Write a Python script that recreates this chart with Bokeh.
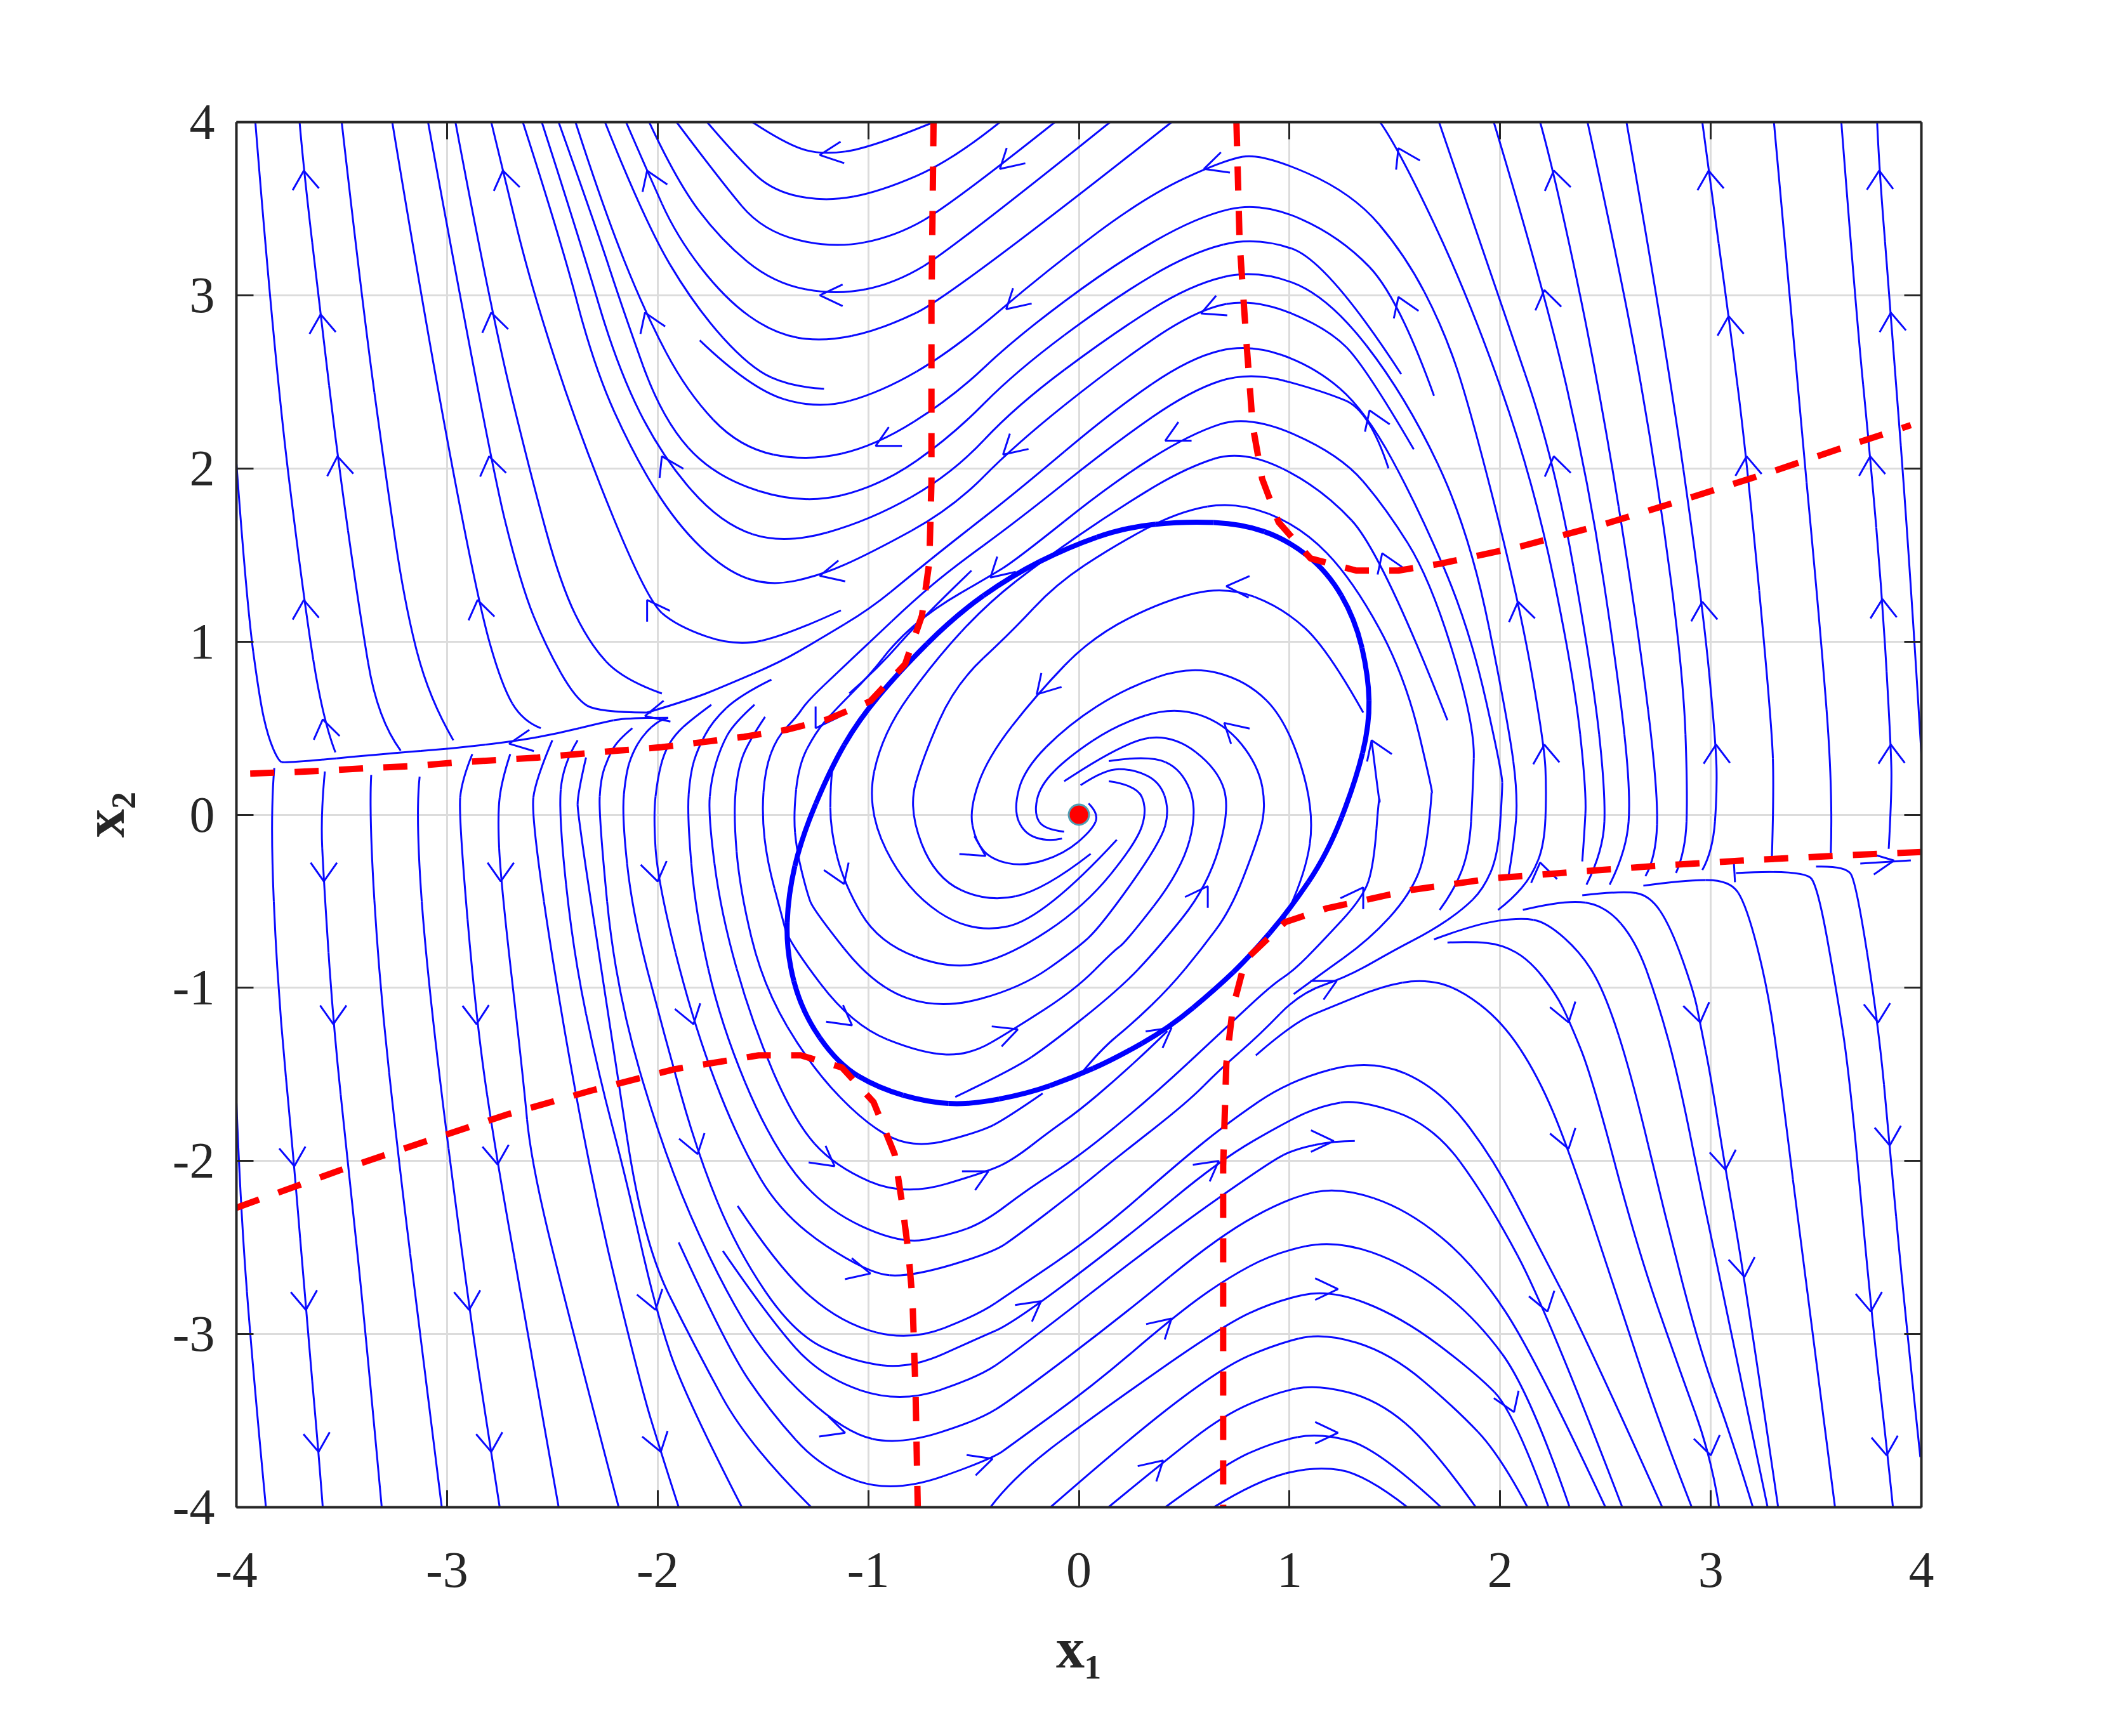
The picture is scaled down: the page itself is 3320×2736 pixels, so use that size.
import math
from bokeh.embed import file_html
from bokeh.resources import INLINE
from bokeh.models import ColumnDataSource, FixedTicker, LinearAxis, Range1d
from bokeh.plotting import figure

# ---- tick labels and axis names ----
tick_values = [-4, -3, -2, -1, 0, 1, 2, 3, 4]
tick_labels = ["-4", "-3", "-2", "-1", "0", "1", "2", "3", "4"]
x_name = "x\u2081"
y_name = "x\u2082"

# ---- streamlines running up the left side and over the top ----
u01 = [(-1.55,4),(-1.40,3.88),(-1.23,3.81),(-.99,3.85),(-.69,4)]
u02 = [(-1.765,4),(-1.61,3.78),(-1.45,3.6),(-1.20,3.54),(-.94,3.6),(-.60,3.78),(-.375,4)]
u03 = [(-1.91,4),(-1.70,3.66),(-1.50,3.37),(-1.17,3.27),(-.87,3.34),(-.60,3.53),(-.114,4)]
u04 = [(-2.04,4),(-1.91,3.66),(-1.70,3.32),(-1.45,3.07),(-1.15,3.0),(-.87,3.07),(-.60,3.27),(.148,4)]
u05 = [(-2.15,4),(-2.05,3.72),(-1.91,3.34),(-1.68,2.98),(-1.45,2.78),(-1.22,2.73),(-.94,2.80),(-.60,3.0),(.44,4)]
u06 = [(-2.25,4),(-2.06,3.42),(-1.82,2.93),(-1.56,2.58),(-1.36,2.47),(-1.21,2.46)]
u07 = [(-1.80,2.74),(-1.56,2.46),(-1.24,2.34),(-.94,2.44),(-.60,2.68),(-.145,3.15),(.317,3.57),(.686,3.78),(.87,3.82),
       (1.30,3.59),(1.55,3.23),(1.73,2.81),(1.855,2.36),(2.09,1.23),(2.21,.405),(2.22,.13),(2.21,-.173),(2.15,-.355),(2.055,-.49),(1.99,-.55)]
u08 = [(-2.39,4),(-2.26,3.51),(-2.06,2.90),(-1.86,2.44),(-1.61,2.12),(-1.29,2.04),(-.965,2.13),(-.60,2.41),(-.30,2.755),
       (.163,3.175),(.563,3.455),(.87,3.54),(1.24,3.34),(1.517,2.99),(1.686,2.42)]
u09 = [(-2.47,4),(-2.30,3.42),(-2.16,2.90),(-1.98,2.29),(-1.73,1.95),(-1.31,1.79),(-.94,1.90),(-.60,2.19),(-.30,2.56),
       (.163,2.98),(.53,3.245),(.84,3.34),(1.18,3.2),(1.53,2.545)]
u10 = [(-2.55,4),(-2.37,3.32),(-2.19,2.58),(-1.98,2.07),(-1.70,1.68),(-1.40,1.56),(-.99,1.70),(-.60,1.97),(-.30,2.36),
       (.163,2.78),(.53,3.06),(.84,3.15),(1.18,3.0),(1.55,2.42),(1.855,1.64),(2.04,.52),(2.085,.1),(2.065,-.173),(2.04,-.355)]
u11 = [(-2.64,4),(-2.46,3.32),(-2.30,2.58),(-2.11,2.07),(-1.91,1.68),(-1.68,1.41),(-1.47,1.32),(-1.23,1.38),(-.99,1.51),
       (-.60,1.77),(-.30,2.14),(.163,2.59),(.563,2.92),(.84,2.98),(1.18,2.81),(1.36,2.59),(1.59,2.11)]
u12 = [(-2.79,4),(-2.735,3.72),(-2.60,3.05),(-2.37,2.19),(-2.05,1.24),(-1.91,1.09),(-1.63,.97),(-1.38,1.04),(-1.13,1.18)]
u13 = [(-2.96,4),(-2.79,2.90),(-2.60,1.95),(-2.46,1.33),(-2.325,.99),(-2.165,.78),(-1.98,.70)]
u14 = [(-3.09,4),(-2.80,2.07),(-2.65,1.33),(-2.53,.97),(-2.39,.67),(-2.28,.59),(-2.03,.59)]
u15 = [(-3.26,4),(-3.09,2.75),(-2.855,1.24),(-2.74,.745),(-2.64,.54),(-2.555,.50)]
u16 = [(-3.5,4),(-3.40,2.93),(-3.29,1.95),(-3.2,1.21),(-3.085,.67),(-2.97,.43)]
u17 = [(-3.70,4),(-3.68,3.72),(-3.60,2.89),(-3.52,2.07),(-3.42,1.21),(-3.33,.55),(-3.22,.37)]
u18 = [(-3.91,4),(-3.82,2.63),(-3.68,1.24),(-3.59,.55),(-3.53,.36)]
u19 = [(-4,2.03),(-3.95,1.21),(-3.89,.67),(-3.85,.45),(-3.80,.31),(-3.77,.298),(-3.28,.353),(-2.97,.383),(-2.67,.426),
       (-2.47,.47),(-2.27,.53),(-2.15,.56),(-1.95,.56)]

# ---- long S-shaped lines through the upper left of the limit cycle ----
s01 = [(-2.05,.59),(-1.83,.67),(-1.67,.75),(-1.42,.88),(-1.235,1.01),(-.99,1.19),(-.80,1.38),(-.606,1.57),(-.30,1.86),
       (.163,2.335),(.53,2.64),(.81,2.72),(1.117,2.59),(1.36,2.335),(1.61,1.776),(1.855,1.08),(2.01,.24),(2.01,.13),(1.99,-.234),
       (1.92,-.43),(1.82,-.55),(1.675,-.67),(1.5,-.78),(1.276,-.936),(1.05,-1.03),(.86,-1.27),(.67,-1.47),(.517,-1.66),(.17,-1.99),
       (0,-2.16),(-.29,-2.43),(-.41,-2.53),
       (-.80,-2.67),(-1.0,-2.65),(-1.40,-2.33),(-1.62,-1.88),(-1.83,-1.21),(-2.0,-.385),(-2.02,0),(-2.0,.21),(-1.97,.355),
       (-1.92,.46),(-1.84,.55),(-1.745,.635)]
s02 = [(1.47,2.0),(1.38,2.335),(1.15,2.45),(.81,2.56),(.53,2.45),(.163,2.14),(-.30,1.69),(-.606,1.42),(-.79,1.23),(-.99,1.0),
       (-1.13,.84),(-1.29,.655),(-1.34,.565),(-1.435,.445),(-1.49,.26),(-1.505,0),(-1.48,-.27),(-1.41,-.585),(-1.38,-.73),
       (-1.077,-1.217),(-.74,-1.38),(-.52,-1.39),(-.31,-1.24),(-.017,-1.01),(.17,-.78),(.22,-.74),(.488,-.32),(.564,.03),(.488,.263),(.334,.345),(.142,.31)]
s03 = [(1.713,-.55),(1.78,-.44),(1.854,-.21),(1.87,.13),(1.88,.52),(1.67,1.357),(1.455,1.776),(1.24,2.08),(.81,2.31),(.53,2.2),
       (.163,1.92),(-.30,1.47),(-.42,1.38),(-.69,1.19),(-.87,1.0),(-.99,.81),(-1.17,.59),(-1.25,.475),(-1.33,.29),(-1.355,0),
       (-1.34,-.21),(-1.29,-.454),(-1.26,-.55),(-.97,-.995),(-.655,-1.126),(-.276,-1.0),(-.017,-.78),(.104,-.646),(.39,-.156),(.43,.03),
       (.382,.193),(.257,.263),(.123,.263),(.008,.17)]
s04 = [(1.75,.545),(1.44,1.51),(1.15,1.89),(.78,2.11),(.5,2.0),(.163,1.75),(-.165,1.475),(-.434,1.22),(-.683,.893),(-.933,.473),
       (-1.01,.03),(-.82,-.436),(-.51,-.69),(-.165,-.60),(.18,-.145)]
s05 = [(1.675,.13),(1.686,.1),(1.55,.8),(1.30,1.357),(1.055,1.665),(.75,1.81),(.47,1.75),(.163,1.55),(-.11,1.33),(-.32,1.056),
       (-.587,.753),(-.74,.333),(-.81,.03),(-.683,-.366),(-.434,-.506),(-.165,-.436),(.056,-.226)]
s06 = [(-.51,1.41),(-.75,1.13),(-.95,.85),(-1.09,.7)]

# ---- spirals into the origin ----
sp1 = [(1.35,.59),(1.18,.96),(.967,1.196),(.70,1.32),(.41,1.24),(.065,1.03),(-.20,.695),(-.434,.33),(-.52,.03),(-.49,-.156),
       (-.415,-.26),(-.26,-.30),(-.07,-.226),(.065,-.086),(.094,.007),(.046,.065)]
sp2 = [(.967,-.622),(1.073,-.366),(1.12,.03),(.987,.543),(.795,.776),(.526,.86),(.219,.73),(-.05,.52),(-.26,.263),(-.31,.03),
       (-.26,-.11),(-.146,-.156),(-.08,-.138)]
sp3 = [(.008,-1.5),(.10,-1.36),(.26,-1.2),(.43,-1.0),(.58,-.78),(.72,-.55),(.833,-.2),(.89,.03),(.852,.287),(.69,.53),(.45,.625),(.18,.52),(-.05,.333),
       (-.184,.17),(-.213,.007),(-.165,-.086),(-.07,-.098)]
sp4 = [(-.587,-1.63),(-.31,-1.47),(-.14,-1.33),(.19,-1.01),(.37,-.78),(.612,-.413),(.718,.03),(.66,.263),(.45,.46),(.22,.427),(-.07,.193)]
sp5 = [(-1.17,.27),(-1.18,.17),(-1.18,-.086),(-1.115,-.40),(-.952,-.74),(-.6,-.90),(-.32,-.81),(.027,-.53),(.276,-.156),(.324,.03),(.276,.17),(.142,.193)]

# ---- lines running down the lower left ----
v01 = [(-1.49,.565),(-1.57,.42),(-1.62,.26),(-1.64,0),(-1.61,-.43),(-1.50,-.986),(-1.27,-1.46),(-1.0,-1.80),(-.776,-1.93),
       (-.466,-1.83),(-.345,-1.755),(-.172,-1.61)]
v02 = [(-1.54,.635),(-1.64,.525),(-1.70,.39),(-1.745,.21),(-1.76,0),(-1.70,-.567),(-1.55,-1.21),(-1.35,-1.77),(-1.16,-2.03),
       (-.83,-2.205),(-.43,-2.06),(-.31,-1.99),(-.14,-1.83),(0,-1.71),(.17,-1.535),(.345,-1.34),(.42,-1.25)]
v03 = [(-1.46,.78),(-1.61,.69),(-1.74,.54),(-1.81,.38),(-1.845,.24),(-1.86,0),(-1.82,-.567),(-1.70,-1.21),(-1.47,-1.88),
       (-1.22,-2.27),(-.85,-2.48),(-.62,-2.43),(-.45,-2.355),(-.24,-2.16),(0,-1.975),(.345,-1.63),(.69,-1.24),(.914,-.985),
       (1.02,-.90),(1.147,-.744),(1.35,-.477),(1.40,-.29),(1.426,.13),(1.43,.03),(1.39,.43)]
v05 = [(-1.62,-2.26),(-1.42,-2.63),(-1.125,-2.94),(-.80,-3.04),(-.48,-2.89),(-.31,-2.75),(.078,-2.43),(.483,-2.0),(.707,-1.78),(1.0,-1.535),
       (1.39,-1.41),(1.71,-1.58),(1.965,-1.98),(2.17,-2.465),(2.40,-3.0),(2.77,-4)]
v06 = [(-1.95,.56),(-1.99,.55),(-2.07,.46),(-2.12,.355),(-2.15,.24),(-2.17,0),(-2.12,-.567),(-1.97,-1.265),(-1.81,-1.96),
       (-1.62,-2.52),(-1.35,-3.0),(-1.07,-3.16),(-.80,-3.2),(-.48,-3.025),(-.31,-2.935),(.24,-2.43),(.664,-2.0),(.99,-1.77),(1.155,-1.68),
       (1.33,-1.645),(1.68,-1.79),(1.94,-2.22),(2.225,-2.87),(2.58,-4)]
v07 = [(-1.69,-2.52),(-1.47,-2.91),(-1.22,-3.25),(-.85,-3.40),(-.48,-3.25),(-.31,-3.11),(.41,-2.43),(.914,-2.0),(1.03,-1.93),(1.21,-1.885),(1.31,-1.885)]
v08 = [(-2.12,.5),(-2.19,.43),(-2.235,.33),(-2.27,.21),(-2.28,0),(-2.2,-1.0),(-1.97,-1.96),(-1.72,-2.66),(-1.47,-3.17),(-1.11,-3.57),
       (-.85,-3.64),(-.48,-3.5),(-.31,-3.37),(.2,-2.9),(.67,-2.43),(1.0,-2.21),(1.24,-2.15),(1.56,-2.28),(1.88,-2.6),(2.17,-3.14),(2.5,-4)]
v09 = [(-1.90,-2.47),(-1.67,-3.08),(-1.47,-3.44),(-1.22,-3.78),(-.875,-3.92),(-.41,-3.72),(-.31,-3.63),(.065,-3.30),(.44,-2.91),
       (.685,-2.69),(.93,-2.53),(1.22,-2.455),(1.56,-2.6),(1.88,-2.9),(2.14,-3.33),(2.33,-4)]
v10 = [(-2.34,.33),(-2.38,.12),(-2.38,0),(-2.22,-1.265),(-2.07,-2.47),(-1.82,-3.08),(-1.57,-3.64),(-1.27,-4)]
v11 = [(-2.38,.43),(-2.45,.29),(-2.47,0),(-2.40,-.8),(-2.28,-1.5),(-2.15,-2.1),(-2.01,-2.86),(-1.87,-3.36),(-1.60,-4)]
v12 = [(-2.5,.43),(-2.58,.2),(-2.60,0),(-2.48,-1.0),(-2.3,-2.2),(-2.08,-3.3),(-1.985,-3.68),(-1.90,-4)]
v13 = [(-2.70,.35),(-2.74,.2),(-2.76,0),(-2.745,-.385),(-2.64,-1.5),(-2.6,-2.02),(-2.4,-3.0),(-2.185,-4)]
v14 = [(-2.88,.35),(-2.93,.2),(-2.945,0),(-2.86,-1.21),(-2.76,-2.02),(-2.6,-3.1),(-2.47,-4)]
v15 = [(-3.13,.22),(-3.15,0),(-3.09,-1.0),(-2.895,-2.86),(-2.79,-3.68),(-2.75,-4)]
v16 = [(-3.36,.23),(-3.37,0),(-3.32,-.986),(-3.23,-1.99),(-3.12,-3.08),(-3.025,-4)]
v17 = [(-3.58,.25),(-3.60,0),(-3.585,-.385),(-3.54,-1.21),(-3.47,-2.02),(-3.39,-2.94),(-3.31,-4)]
v18 = [(-3.82,.27),(-3.84,0),(-3.805,-1.0),(-3.725,-2.03),(-3.67,-2.86),(-3.61,-3.68),(-3.59,-4)]
v19 = [(-4,-1.66),(-3.98,-2.28),(-3.92,-3.23),(-3.86,-4)]

# ---- arches in the lower right ----
a01 = [(.64,-4),(.84,-3.85),(1.12,-3.76),(1.36,-3.81),(1.56,-4)]
a02 = [(.41,-4),(.685,-3.755),(.93,-3.62),(1.145,-3.57),(1.42,-3.66),(1.72,-4)]
a03 = [(.14,-4),(.41,-3.73),(.685,-3.47),(.93,-3.34),(1.13,-3.29),(1.42,-3.38),(1.68,-3.65),(1.885,-4)]
a04 = [(-.135,-4),(.27,-3.57),(.685,-3.19),(.93,-3.06),(1.16,-2.99),(1.48,-3.11),(1.79,-3.43),(2.0,-3.70),(2.13,-4)]
a05 = [(-.42,-4),(-.31,-3.82),(.12,-3.43),(.685,-2.95),(.93,-2.81),(1.19,-2.74),(1.53,-2.9),(1.88,-3.22),(2.066,-3.45),(2.23,-4)]
a06 = [(.84,-1.39),(1.02,-1.2),(1.20,-1.11),(1.44,-.99),(1.63,-.95),(1.80,-1.0),(2.01,-1.195),(2.18,-1.51),(2.325,-1.93),(2.56,-2.8),(2.75,-3.5),(2.91,-4)]
a07 = [(1.75,-.738),(1.865,-.732),(2.01,-.75),(2.14,-.84),(2.266,-1.036),(2.33,-1.195),(2.435,-1.51),(2.65,-2.5),(2.85,-3.2),(3.0,-3.70),(3.04,-4)]
a08 = [(1.686,-.72),(1.886,-.63),(2.097,-.595),(2.22,-.62),(2.39,-.805),(2.50,-1.036),(2.625,-1.51),(2.78,-2.3),(2.95,-3.1),(3.1,-3.6),(3.2,-4)]
a09 = [(2.108,-.55),(2.31,-.49),(2.50,-.525),(2.645,-.73),(2.75,-1.085),(2.846,-1.51),(2.96,-2.2),(3.1,-3.0),(3.27,-4)]
a10 = [(2.39,-.465),(2.58,-.44),(2.71,-.465),(2.81,-.647),(2.92,-1.024),(2.95,-1.207),(3.0,-1.51),(3.07,-2.05),(3.16,-2.67),(3.32,-4)]
a11 = [(2.68,-.41),(2.86,-.38),(3.09,-.375),(3.17,-.525),(3.27,-1.0),(3.33,-1.51),(3.45,-2.7),(3.59,-4)]
a12 = [(3.12,-.337),(3.45,-.315),(3.51,-.43),(3.595,-1.0),(3.66,-1.51),(3.76,-2.85),(3.84,-3.7),(3.865,-4)]
a13 = [(3.5,-.30),(3.64,-.295),(3.69,-.39),(3.795,-1.207),(3.85,-1.91),(3.91,-2.73),(3.995,-3.71)]
a14 = [(3.71,-.282),(3.95,-.264)]
a15 = [(3.11,-.28),(3.115,-.39)]
a16 = [(1.02,-1.036),(1.127,-.94),(1.38,-.72),(1.57,-.465),(1.655,-.21),(1.675,.13)]

# ---- lines running up the upper right ----
t01 = [(1.43,4),(1.517,3.85),(1.855,2.98),(2.16,1.92),(2.35,.8),(2.41,.13),(2.40,-.11),(2.39,-.27)]
t02 = [(1.71,4),(1.98,3.03),(2.255,2.07),(2.44,.8),(2.50,.13),(2.49,-.21),(2.41,-.404)]
t03 = [(1.97,4),(2.21,3.03),(2.42,1.92),(2.56,.8),(2.62,.13),(2.60,-.21),(2.52,-.404)]
t04 = [(2.19,4),(2.255,3.72),(2.47,2.48),(2.655,1.08),(2.75,.13),(2.74,-.246),(2.69,-.355)]
t05 = [(2.415,4),(2.59,3.03),(2.75,1.92),(2.87,.8),(2.89,.13),(2.88,-.21),(2.835,-.337)]
t06 = [(2.60,4),(2.78,2.76),(2.96,1.23),(3.025,.405),(3.03,.13),(3.01,-.21),(2.96,-.32)]
t07 = [(2.96,4),(2.99,3.72),(3.085,2.88),(3.17,2.07),(3.29,.52),(3.30,.13),(3.29,-.26)]
t08 = [(3.30,4),(3.39,2.76),(3.52,1.08),(3.58,.13),(3.57,-.22)]
t09 = [(3.62,4),(3.69,2.9),(3.757,2.07),(3.815,1.245),(3.855,.405),(3.86,.13),(3.845,-.197)]
t10 = [(3.79,4),(3.80,3.72),(3.855,2.9),(3.95,1.36),(4.0,.35)]

streams = [u01,u02,u03,u04,u05,u06,u07,u08,u09,u10,u11,u12,u13,u14,u15,u16,u17,u18,u19,
           s01,s02,s03,s04,s05,s06,sp1,sp2,sp3,sp4,sp5,
           v01,v02,v03,v05,v06,v07,v08,v09,v10,v11,v12,v13,v14,v15,v16,v17,v18,v19,
           a01,a02,a03,a04,a05,a06,a07,a08,a09,a10,a11,a12,a13,a14,a15,a16,
           t01,t02,t03,t04,t05,t06,t07,t08,t09,t10]

# ---- the thick closed curve ----
limit_cycle = [(.507,1.695),(.775,1.68),(.987,1.59),(1.18,1.405),(1.313,1.126),(1.375,.80),(1.38,.52),(1.313,.19),(1.18,-.226),
               (1.0,-.55),(.81,-.82),(.655,-1.0),(.43,-1.23),(.17,-1.41),(-.034,-1.52),(-.24,-1.61),(-.517,-1.675),(-.72,-1.66),(-.95,-1.58),
               (-1.144,-1.44),(-1.317,-1.135),(-1.39,-.786),(-1.38,-.46),(-1.317,-.133),(-1.18,.263),(-1.048,.543),
               (-.856,.823),(-.587,1.15),(-.32,1.38),(-.05,1.545),(.22,1.66)]

# ---- red dashed boundary curves ----
red_upper_left_x = [-.69,-.70,-.70,-.71,-.745,-.825,-.99,-1.195,-1.39,-1.59,-1.78,-1.98,-2.19,-2.38,-2.57,-2.97,-3.17,-3.365,-3.565,-3.76,-4]
red_upper_left_y = [4,2.93,1.92,1.46,1.15,.87,.656,.55,.49,.45,.42,.39,.37,.35,.33,.30,.28,.27,.255,.245,.235]
red_upper_right_x = [.748,.763,.794,.825,.87,.948,1.10,1.317,1.517,1.717,2.10,2.50,2.90,3.30,3.70,3.95]
red_upper_right_y = [4,3.31,2.755,2.25,1.94,1.69,1.48,1.41,1.41,1.45,1.55,1.68,1.83,1.985,2.15,2.25]
red_lower_right_x = [4,3.55,3.15,2.75,2.36,1.97,1.58,1.18,.98,.79,.73,.70,.685,.685,.685,.685]
red_lower_right_y = [-.215,-.24,-.265,-.295,-.33,-.367,-.434,-.54,-.62,-.84,-1.12,-1.44,-2.03,-2.63,-3.27,-4]
red_lower_left_x = [-4,-3.5,-3.11,-2.71,-2.32,-1.92,-1.52,-1.32,-1.125,-.975,-.875,-.84,-.81,-.79,-.775,-.765]
red_lower_left_y = [-2.27,-2.05,-1.89,-1.73,-1.595,-1.47,-1.39,-1.39,-1.46,-1.66,-1.96,-2.24,-2.52,-2.80,-3.36,-4]

# ---- arrowheads: tip x, tip y, heading in degrees ----
arrow_x = [-3.68,-3.60,-3.52,-2.735,-2.79,-2.80,-2.855,-3.68,-3.59,-2.05,-2.06,-1.98,-2.05,
           -1.23,-1.23,-.965,-1.23,-.375,-.345,-.36,-.42,.594,.58,.41,
           1.517,1.517,1.38,1.44,2.255,2.21,2.255,2.085,2.21,2.99,3.085,3.17,2.96,3.025,3.80,3.855,3.757,3.815,3.855,1.39,
           .70,-.20,-.443,.69,-1.115,-1.077,-.29,.612,.44,-1.25,1.35,1.224,
           -3.585,-3.54,-3.725,-3.67,-3.61,-2.745,-2.86,-2.76,-2.895,-2.79,-2.0,-1.83,-1.81,-2.01,-1.985,
           -1.16,-.99,-1.11,-.43,-.41,
           1.21,.664,-.18,.44,1.23,.40,1.23,2.325,2.325,2.225,2.066,2.95,3.07,3.16,3.0,3.795,3.85,3.76,3.835,
           3.87,2.19,-2.705,-2.06]
arrow_y = [3.72,2.89,2.07,3.72,2.90,2.07,1.24,1.24,.55,3.72,2.90,2.07,1.24,
           3.81,3.0,2.13,1.38,3.73,2.92,2.08,1.37,3.73,2.895,2.16,
           3.85,2.99,2.335,1.51,3.72,3.03,2.07,1.23,.405,3.72,2.88,2.07,1.23,.405,3.72,2.9,2.07,1.245,.405,.43,
           1.32,.695,-.238,.53,-.40,-1.217,-1.24,-.413,-1.23,.5,-.42,-.96,
           -.385,-1.21,-2.03,-2.86,-3.68,-.385,-1.21,-2.02,-2.86,-3.68,-.385,-1.21,-1.96,-2.86,-3.68,
           -2.03,-2.65,-3.57,-2.06,-3.72,
           -1.885,-2.0,-2.81,-2.91,-2.74,-3.73,-3.57,-1.20,-1.93,-2.87,-3.45,-1.2,-2.05,-2.67,-3.70,-1.2,-1.91,-2.87,-3.70,
           -.265,-.276,.41,.57]
arrow_heading = [95,95,97,100,100,100,100,95,100,110,110,115,120,
                 188,180,210,195,225,225,225,225,200,205,210,
                 115,110,110,110,100,100,100,100,95,95,95,95,95,92,92,95,95,93,92,110,
                 178,230,325,135,290,320,22,60,40,240,60,30,
                 270,270,275,275,275,270,272,275,275,275,280,285,285,285,285,
                 320,345,340,30,20,
                 0,40,40,45,0,45,0,285,285,285,290,280,277,277,280,273,275,275,275,
                 10,100,190,195]
barb_length = 0.125
barb_spread = 150

# ---- figure: plotting box spans x 372..3027 and y 192..2375 of the page ----
p = figure(width=3304, height=2720, output_backend="svg", toolbar_location=None,
           x_range=Range1d(-4, 4), y_range=Range1d(-4, 4),
           min_border_left=372, min_border_right=277, min_border_top=192, min_border_bottom=345,
           background_fill_color="white", border_fill_color="white", outline_line_color=None)

ink = "#262626"
font = "Liberation Serif"
overrides = dict(zip(tick_values, tick_labels))

def style_axis(ax, labels, standoff):
    ax.ticker = FixedTicker(ticks=tick_values)
    ax.major_label_overrides = overrides
    ax.axis_line_color = ink
    ax.axis_line_width = 4
    ax.major_tick_line_color = ink
    ax.major_tick_line_width = 3
    ax.major_tick_in = 27
    ax.major_tick_out = 0
    ax.minor_tick_line_color = None
    ax.major_label_text_font = font
    ax.major_label_text_font_size = "80px"
    ax.major_label_text_color = ink if labels else None
    ax.major_label_standoff = standoff
    ax.axis_label_text_font = font
    ax.axis_label_text_font_style = "bold"
    ax.axis_label_text_font_size = "90px"
    ax.axis_label_text_color = ink

for ax in p.xaxis:
    style_axis(ax, True, 72)
    ax.axis_label = x_name
    ax.axis_label_standoff = 44
for ax in p.yaxis:
    style_axis(ax, True, 34)
    ax.major_label_orientation = "horizontal"
    ax.axis_label = y_name
    ax.axis_label_standoff = 55
top_axis = LinearAxis()
right_axis = LinearAxis()
style_axis(top_axis, False, 0)
style_axis(right_axis, False, 0)
top_axis.major_label_text_font_size = "1px"
right_axis.major_label_text_font_size = "1px"
p.add_layout(top_axis, "above")
p.add_layout(right_axis, "right")

for g in (p.xgrid[0], p.ygrid[0]):
    g.ticker = FixedTicker(ticks=[-3, -2, -1, 0, 1, 2, 3])
    g.grid_line_color = "#dcdcdc"
    g.grid_line_width = 3

# smooth rendering of the read points with the library's quadratic glyph
def pieces(points, closed=False):
    x0, y0, x1, y1, cx, cy = [], [], [], [], [], []
    n = len(points)
    if closed:
        triples = [(points[i - 1], points[i], points[(i + 1) % n]) for i in range(n)]
    else:
        triples = [(points[i - 1], points[i], points[i + 1]) for i in range(1, n - 1)]
    for k, (a, b, c) in enumerate(triples):
        start = ((a[0] + b[0]) / 2, (a[1] + b[1]) / 2)
        end = ((b[0] + c[0]) / 2, (b[1] + c[1]) / 2)
        if not closed and k == 0:
            start = a
        if not closed and k == len(triples) - 1:
            end = c
        x0.append(start[0]); y0.append(start[1]); x1.append(end[0]); y1.append(end[1])
        cx.append(b[0]); cy.append(b[1])
    if not closed and n == 2:
        a, c = points
        x0, y0, x1, y1 = [a[0]], [a[1]], [c[0]], [c[1]]
        cx, cy = [(a[0] + c[0]) / 2], [(a[1] + c[1]) / 2]
    return x0, y0, x1, y1, cx, cy

cols = dict(x0=[], y0=[], x1=[], y1=[], cx=[], cy=[])
for line in streams:
    for key, part in zip(cols, pieces(line)):
        cols[key].extend(part)
p.quadratic(x0="x0", y0="y0", x1="x1", y1="y1", cx="cx", cy="cy", source=ColumnDataSource(cols),
            line_color="#0a0aff", line_width=3)

bx, by = [], []
for tx, ty, h in zip(arrow_x, arrow_y, arrow_heading):
    a1 = math.radians(h + barb_spread)
    a2 = math.radians(h - barb_spread)
    bx.append([tx + barb_length * math.cos(a1), tx, tx + barb_length * math.cos(a2)])
    by.append([ty + barb_length * math.sin(a1), ty, ty + barb_length * math.sin(a2)])
p.multi_line(bx, by, line_color="#0a0aff", line_width=3)

cyc = dict(zip(["x0", "y0", "x1", "y1", "cx", "cy"], pieces(limit_cycle, closed=True)))
p.quadratic(x0="x0", y0="y0", x1="x1", y1="y1", cx="cx", cy="cy", source=ColumnDataSource(cyc),
            line_color="#0000ff", line_width=8)

for rx, ry in ((red_upper_left_x, red_upper_left_y), (red_upper_right_x, red_upper_right_y),
               (red_lower_right_x, red_lower_right_y), (red_lower_left_x, red_lower_left_y)):
    p.line(rx, ry, line_color="#ff0000", line_width=10, line_dash="38 32")

p.scatter([0], [0], size=32, marker="circle", fill_color="#ff0000", line_color="#4f9fb5", line_width=3)

open("out.html", "w").write(file_html(p, INLINE))
